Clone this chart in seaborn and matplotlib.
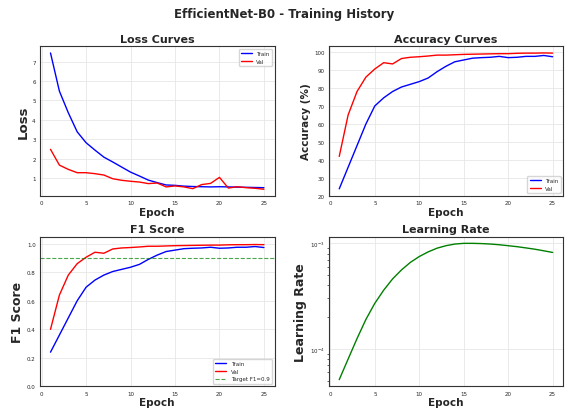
import numpy as np
import pandas as pd
import matplotlib
matplotlib.use("Agg")
import matplotlib.pyplot as plt
import seaborn as sns

# Estilo
sns.set_style("whitegrid")
plt.rcParams['font.family'] = ['DejaVu Sans']
plt.rcParams['axes.edgecolor'] = '#333333'
plt.rcParams['grid.color'] = '#e6e6e6'

# Datos
epochs = list(range(1, 26))
train_loss = [7.44, 5.48, 4.37, 3.39, 2.83, 2.45, 2.09, 1.84, 1.58, 1.32, 1.12, 0.91, 0.78,
              0.66, 0.64, 0.60, 0.58, 0.57, 0.56, 0.57, 0.56, 0.55, 0.54, 0.53, 0.52]
val_loss = [2.49, 1.68, 1.46, 1.29, 1.29, 1.24, 1.17, 0.98, 0.90, 0.85, 0.81, 0.73, 0.76,
            0.56, 0.61, 0.56, 0.47, 0.68, 0.74, 1.05, 0.50, 0.57, 0.52, 0.49, 0.44]
train_acc = [24.0, 36.0, 48.0, 60.0, 70.0, 74.5, 78.0, 80.5, 82.0, 83.5, 85.5, 89.0, 92.0,
             94.5, 95.5, 96.5, 96.8, 97.0, 97.5, 96.8, 97.0, 97.5, 97.5, 98.0, 97.3]
val_acc = [42.0, 65.0, 78.0, 86.0, 90.5, 94.0, 93.3, 96.3, 97.0, 97.3, 97.7, 98.2, 98.2,
           98.4, 98.6, 98.7, 98.8, 98.9, 99.0, 99.0, 99.2, 99.3, 99.3, 99.4, 99.3]
train_f1 = [0.24, 0.36, 0.48, 0.60, 0.695, 0.745, 0.78, 0.805, 0.82, 0.835, 0.855, 0.89, 0.92,
            0.945, 0.955, 0.965, 0.968, 0.97, 0.975, 0.968, 0.97, 0.975, 0.975, 0.98, 0.973]
val_f1 = [0.40, 0.64, 0.78, 0.86, 0.905, 0.94, 0.933, 0.963, 0.97, 0.973, 0.977, 0.982, 0.982,
          0.984, 0.986, 0.987, 0.988, 0.989, 0.99, 0.99, 0.992, 0.993, 0.993, 0.994, 0.993]
target_f1 = 0.9
learning_rate = [5.1e-5, 8.0e-5, 1.25e-4, 1.9e-4, 2.7e-4, 3.6e-4, 4.6e-4, 5.6e-4, 6.6e-4,
                 7.5e-4, 8.3e-4, 9.0e-4, 9.5e-4, 9.85e-4, 1.0e-3, 1.0e-3, 9.95e-4, 9.85e-4,
                 9.7e-4, 9.5e-4, 9.3e-4, 9.05e-4, 8.8e-4, 8.5e-4, 8.2e-4]

df = pd.DataFrame({
    'epoch': epochs,
    'train_loss': train_loss, 'val_loss': val_loss,
    'train_acc': train_acc, 'val_acc': val_acc,
    'train_f1': train_f1, 'val_f1': val_f1,
    'lr': learning_rate,
})

fig, axes = plt.subplots(2, 2, figsize=(5.69, 4.10), dpi=100)
fig.suptitle('EfficientNet-B0 - Training History', fontsize=8.5, fontweight='bold', y=0.98)

lw = 1.0
tfs = 8
lfs = 7.5

# 1. Loss
ax = axes[0, 0]
sns.lineplot(data=df, x='epoch', y='train_loss', color='blue', lw=lw, label='Train', ax=ax)
sns.lineplot(data=df, x='epoch', y='val_loss', color='red', lw=lw, label='Val', ax=ax)
ax.set_title('Loss Curves', fontsize=tfs, fontweight='bold', pad=3)
ax.set_xlabel('Epoch', fontsize=lfs, fontweight='bold', labelpad=1)
ax.set_ylabel('Loss', fontsize=9.5, fontweight='bold', labelpad=2)
ax.legend(loc='upper right', fontsize=4)

# 2. Accuracy
ax = axes[0, 1]
sns.lineplot(data=df, x='epoch', y='train_acc', color='blue', lw=lw, label='Train', ax=ax)
sns.lineplot(data=df, x='epoch', y='val_acc', color='red', lw=lw, label='Val', ax=ax)
ax.set_title('Accuracy Curves', fontsize=tfs, fontweight='bold', pad=3)
ax.set_xlabel('Epoch', fontsize=lfs, fontweight='bold', labelpad=1)
ax.set_ylabel('Accuracy (%)', fontsize=lfs, fontweight='bold', labelpad=2)
ax.set_yticks(range(20, 101, 10))
ax.legend(loc='lower right', fontsize=4)

# 3. F1
ax = axes[1, 0]
sns.lineplot(data=df, x='epoch', y='train_f1', color='blue', lw=lw, label='Train', ax=ax)
sns.lineplot(data=df, x='epoch', y='val_f1', color='red', lw=lw, label='Val', ax=ax)
ax.axhline(target_f1, color='green', ls='--', lw=0.8, alpha=0.7, label='Target F1=0.9')
ax.set_title('F1 Score', fontsize=tfs, fontweight='bold', pad=3)
ax.set_xlabel('Epoch', fontsize=lfs, fontweight='bold', labelpad=1)
ax.set_ylabel('F1 Score', fontsize=9, fontweight='bold', labelpad=2)
ax.set_ylim(0, 1.05)
ax.legend(loc='lower right', fontsize=4)

# 4. Learning rate
ax = axes[1, 1]
sns.lineplot(data=df, x='epoch', y='lr', color='green', lw=lw, ax=ax)
ax.set_yscale('log')
ax.set_title('Learning Rate', fontsize=tfs, fontweight='bold', pad=3)
ax.set_xlabel('Epoch', fontsize=lfs, fontweight='bold', labelpad=1)
ax.set_ylabel('Learning Rate', fontsize=9, fontweight='bold', labelpad=2)

for ax in axes.flat:
    ax.set_xticks(range(0, 26, 5))
    ax.tick_params(labelsize=4, length=2, pad=1)
    ax.tick_params(axis='y', which='minor', left=True, length=1.5, width=0.5)
    for s in ax.spines.values():
        s.set_linewidth(0.8)
    ax.grid(True, lw=0.6)

fig.subplots_adjust(left=0.07, right=0.99, top=0.885, bottom=0.055, hspace=0.27, wspace=0.23)
fig.savefig('out.png', dpi=100)
